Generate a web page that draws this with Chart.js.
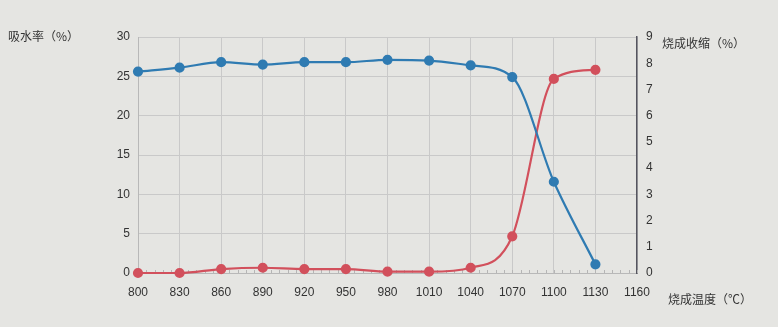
<!DOCTYPE html>
<html>
<head>
<meta charset="utf-8">
<script src="https://cdn.jsdelivr.net/npm/chart.js@4"></script>
<style>
  html, body { margin: 0; padding: 0; background: #e5e5e2; }
  .wrap { position: relative; width: 778px; height: 327px; }
  .ttl { position: absolute; font-family: "Noto Sans CJK SC", sans-serif; font-size: 12px; color: #333; white-space: nowrap; }
</style>
</head>
<body>
<div class="wrap">
  <canvas id="chart" width="778" height="327"></canvas>
  <div class="ttl" style="left:8px; top:27px;">吸水率（%）</div>
  <div class="ttl" style="left:662px; top:34px;">烧成收缩（%）</div>
  <div class="ttl" style="left:668px; top:290px;">烧成温度（℃）</div>
</div>
<script>
// firing temperature (℃)
const temps = [800, 830, 860, 890, 920, 950, 980, 1010, 1040, 1070, 1100, 1130];
// water absorption (%), left axis
const absorption = [25.6, 26.1, 26.8, 26.5, 26.8, 26.8, 27.1, 27.0, 26.4, 24.9, 11.6, 1.1];
// firing shrinkage (%), right axis
const shrinkage = [0.0, 0.0, 0.15, 0.2, 0.15, 0.15, 0.05, 0.05, 0.2, 1.4, 7.4, 7.75];

const xMin = 800, xMax = 1160, xStep = 30;
const leftMax = 30, leftStep = 5;
const rightMax = 9, rightStep = 1;

const toPts = (vals) => vals.map((v, i) => ({ x: temps[i], y: v }));
const tickFont = { size: 12, family: "Liberation Sans" };
const plain = (v) => String(v);

// small ticks along the bottom axis
const minorTicks = {
  id: "minorTicks",
  beforeDatasetsDraw(chart) {
    const { ctx, scales } = chart;
    const x = scales.x;
    const yb = chart.chartArea.bottom;
    ctx.save();
    ctx.strokeStyle = "#b5b5b5";
    ctx.lineWidth = 1;
    for (let t = xMin; t <= xMax; t += 6) {
      const px = Math.round(x.getPixelForValue(t)) + 0.5;
      ctx.beginPath();
      ctx.moveTo(px, yb);
      ctx.lineTo(px, yb - 3);
      ctx.stroke();
    }
    ctx.restore();
  },
};

new Chart(document.getElementById("chart"), {
  type: "line",
  data: {
    datasets: [
      {
        label: "吸水率",
        data: toPts(absorption),
        yAxisID: "y",
        borderColor: "#2f7bb2",
        backgroundColor: "#2f7bb2",
        borderWidth: 2.2,
        pointRadius: 4,
        cubicInterpolationMode: "monotone",
        clip: false,
      },
      {
        label: "烧成收缩",
        data: toPts(shrinkage),
        yAxisID: "y1",
        borderColor: "#d2505c",
        backgroundColor: "#d2505c",
        borderWidth: 2.2,
        pointRadius: 4,
        cubicInterpolationMode: "monotone",
        clip: false,
      },
    ],
  },
  options: {
    responsive: false,
    animation: false,
    layout: { padding: { top: 37 } },
    plugins: { legend: { display: false }, tooltip: { enabled: false } },
    scales: {
      x: {
        type: "linear",
        min: xMin,
        max: xMax,
        ticks: { stepSize: xStep, color: "#333", font: tickFont, padding: 12, callback: plain },
        grid: { color: "#c9c9c9", drawTicks: false },
        border: { color: "#b8b8b8" },
        afterFit: (s) => { s.height = 54; },
      },
      y: {
        position: "left",
        min: 0,
        max: leftMax,
        ticks: { stepSize: leftStep, color: "#333", font: tickFont, padding: 8, callback: plain },
        grid: { color: "#c9c9c9", drawTicks: false },
        border: { color: "#b8b8b8" },
        afterFit: (s) => { s.width = 138; },
      },
      y1: {
        position: "right",
        min: 0,
        max: rightMax,
        ticks: { stepSize: rightStep, color: "#333", font: tickFont, padding: 9, callback: plain },
        grid: { drawOnChartArea: false, drawTicks: false },
        border: { color: "#55555f", width: 1.5 },
        afterFit: (s) => { s.width = 141; },
      },
    },
  },
  plugins: [minorTicks],
});
</script>
</body>
</html>
